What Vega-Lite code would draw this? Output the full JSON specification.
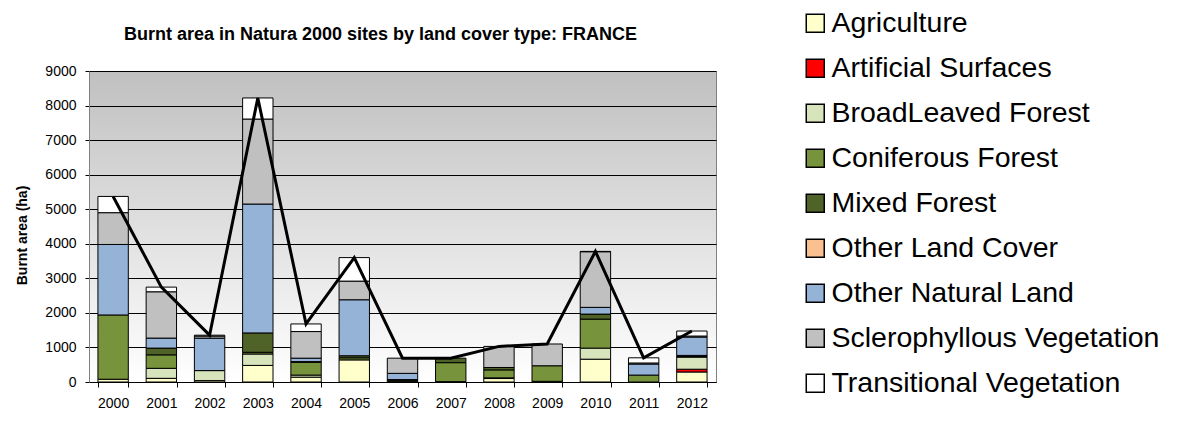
{
  "$schema": "https://vega.github.io/schema/vega-lite/v6.json",
  "autosize": "none",
  "width": 627,
  "height": 311,
  "padding": {"left": 89, "top": 71, "right": 462, "bottom": 42},
  "background": "white",
  "config": {
    "font": "Liberation Sans",
    "view": {
      "stroke": "#808080",
      "strokeWidth": 1,
      "fill": {"gradient": "linear", "x1": 0, "y1": 0, "x2": 0, "y2": 1, "stops": [{"offset": 0, "color": "#c0c0c0"}, {"offset": 1, "color": "#ffffff"}]}
    }
  },
  "title": {
    "text": "Burnt area in Natura 2000 sites by land cover type: FRANCE",
    "font": "Liberation Sans",
    "fontSize": 18,
    "fontWeight": "bold",
    "color": "#000000",
    "anchor": "middle",
    "frame": "group",
    "offset": -35,
    "dx": -22
  },
  "data": {
    "values": [
      {"year": "2000", "cover": "Agriculture", "area": 80},
      {"year": "2000", "cover": "Coniferous Forest", "area": 1860},
      {"year": "2000", "cover": "Other Natural Land", "area": 2040},
      {"year": "2000", "cover": "Sclerophyllous Vegetation", "area": 920},
      {"year": "2000", "cover": "Transitional Vegetation", "area": 470},
      {"year": "2001", "cover": "Agriculture", "area": 106},
      {"year": "2001", "cover": "BroadLeaved Forest", "area": 290},
      {"year": "2001", "cover": "Coniferous Forest", "area": 390},
      {"year": "2001", "cover": "Mixed Forest", "area": 195},
      {"year": "2001", "cover": "Other Natural Land", "area": 290},
      {"year": "2001", "cover": "Sclerophyllous Vegetation", "area": 1340},
      {"year": "2001", "cover": "Transitional Vegetation", "area": 135},
      {"year": "2002", "cover": "Agriculture", "area": 40},
      {"year": "2002", "cover": "BroadLeaved Forest", "area": 290},
      {"year": "2002", "cover": "Other Natural Land", "area": 940},
      {"year": "2002", "cover": "Sclerophyllous Vegetation", "area": 60},
      {"year": "2002", "cover": "Transitional Vegetation", "area": 25},
      {"year": "2003", "cover": "Agriculture", "area": 480},
      {"year": "2003", "cover": "BroadLeaved Forest", "area": 330},
      {"year": "2003", "cover": "Coniferous Forest", "area": 50},
      {"year": "2003", "cover": "Mixed Forest", "area": 560},
      {"year": "2003", "cover": "Other Natural Land", "area": 3730},
      {"year": "2003", "cover": "Sclerophyllous Vegetation", "area": 2460},
      {"year": "2003", "cover": "Transitional Vegetation", "area": 610},
      {"year": "2004", "cover": "Agriculture", "area": 140},
      {"year": "2004", "cover": "BroadLeaved Forest", "area": 60},
      {"year": "2004", "cover": "Coniferous Forest", "area": 370},
      {"year": "2004", "cover": "Mixed Forest", "area": 20},
      {"year": "2004", "cover": "Other Natural Land", "area": 100},
      {"year": "2004", "cover": "Sclerophyllous Vegetation", "area": 770},
      {"year": "2004", "cover": "Transitional Vegetation", "area": 220},
      {"year": "2005", "cover": "Agriculture", "area": 640},
      {"year": "2005", "cover": "Coniferous Forest", "area": 60},
      {"year": "2005", "cover": "Mixed Forest", "area": 60},
      {"year": "2005", "cover": "Other Natural Land", "area": 1620},
      {"year": "2005", "cover": "Sclerophyllous Vegetation", "area": 540},
      {"year": "2005", "cover": "Transitional Vegetation", "area": 680},
      {"year": "2006", "cover": "Agriculture", "area": 10},
      {"year": "2006", "cover": "Coniferous Forest", "area": 40},
      {"year": "2006", "cover": "Mixed Forest", "area": 20},
      {"year": "2006", "cover": "Other Natural Land", "area": 180},
      {"year": "2006", "cover": "Sclerophyllous Vegetation", "area": 440},
      {"year": "2007", "cover": "Agriculture", "area": 10},
      {"year": "2007", "cover": "Coniferous Forest", "area": 550},
      {"year": "2007", "cover": "Mixed Forest", "area": 130},
      {"year": "2008", "cover": "Agriculture", "area": 100},
      {"year": "2008", "cover": "BroadLeaved Forest", "area": 20},
      {"year": "2008", "cover": "Coniferous Forest", "area": 230},
      {"year": "2008", "cover": "Mixed Forest", "area": 70},
      {"year": "2008", "cover": "Sclerophyllous Vegetation", "area": 610},
      {"year": "2009", "cover": "Agriculture", "area": 20},
      {"year": "2009", "cover": "Coniferous Forest", "area": 450},
      {"year": "2009", "cover": "Sclerophyllous Vegetation", "area": 630},
      {"year": "2010", "cover": "Agriculture", "area": 660},
      {"year": "2010", "cover": "BroadLeaved Forest", "area": 320},
      {"year": "2010", "cover": "Coniferous Forest", "area": 840},
      {"year": "2010", "cover": "Mixed Forest", "area": 145},
      {"year": "2010", "cover": "Other Natural Land", "area": 195},
      {"year": "2010", "cover": "Sclerophyllous Vegetation", "area": 1610},
      {"year": "2010", "cover": "Transitional Vegetation", "area": 10},
      {"year": "2011", "cover": "Coniferous Forest", "area": 200},
      {"year": "2011", "cover": "Other Natural Land", "area": 320},
      {"year": "2011", "cover": "Sclerophyllous Vegetation", "area": 30},
      {"year": "2011", "cover": "Transitional Vegetation", "area": 150},
      {"year": "2012", "cover": "Agriculture", "area": 290},
      {"year": "2012", "cover": "Artificial Surfaces", "area": 80},
      {"year": "2012", "cover": "BroadLeaved Forest", "area": 350},
      {"year": "2012", "cover": "Coniferous Forest", "area": 20},
      {"year": "2012", "cover": "Mixed Forest", "area": 30},
      {"year": "2012", "cover": "Other Natural Land", "area": 530},
      {"year": "2012", "cover": "Sclerophyllous Vegetation", "area": 30},
      {"year": "2012", "cover": "Transitional Vegetation", "area": 145}
    ]
  },
  "encoding": {
    "x": {
      "field": "year",
      "type": "ordinal",
      "scale": {"paddingInner": 0.37, "paddingOuter": 0.185},
      "axis": {
        "title": null,
        "labelAngle": 0,
        "labelFont": "Liberation Sans",
        "labelFontSize": 14,
        "labelColor": "#000000",
        "labelPadding": 9,
        "tickBand": "extent",
        "tickSize": 5,
        "tickColor": "#000000",
        "domainColor": "#000000",
        "grid": false
      }
    },
    "y": {
      "field": "area",
      "type": "quantitative",
      "aggregate": "sum",
      "scale": {"domain": [0, 9000], "nice": false},
      "axis": {
        "title": "Burnt area (ha)",
        "titleFont": "Liberation Sans",
        "titleFontSize": 14,
        "titleFontWeight": "bold",
        "titleColor": "#000000",
        "titleX": -67,
        "titleY": 164,
        "titleAngle": -90,
        "titleAlign": "center",
        "titleBaseline": "middle",
        "values": [0, 1000, 2000, 3000, 4000, 5000, 6000, 7000, 8000, 9000],
        "format": "d",
        "labelOverlap": false,
        "labelFont": "Liberation Sans",
        "labelFontSize": 14,
        "labelColor": "#000000",
        "labelPadding": 9,
        "tickSize": 4,
        "tickColor": "#000000",
        "domainColor": "#808080",
        "grid": true,
        "gridColor": "#000000",
        "gridWidth": 1,
        "gridOpacity": 1
      }
    }
  },
  "layer": [
    {
      "mark": {"type": "bar", "stroke": "#000000", "strokeWidth": 1},
      "encoding": {
        "order": {"field": "cover", "type": "nominal", "sort": "ascending"},
        "color": {
          "field": "cover",
          "type": "nominal",
          "scale": {
            "domain": ["Agriculture", "Artificial Surfaces", "BroadLeaved Forest", "Coniferous Forest", "Mixed Forest", "Other Land Cover", "Other Natural Land", "Sclerophyllous Vegetation", "Transitional Vegetation"],
            "range": ["#ffffcc", "#ff0000", "#d8e4bc", "#77933c", "#4f6228", "#fac090", "#95b3d7", "#c0c0c0", "#ffffff"]
          },
          "legend": {
            "title": null,
            "orient": "none",
            "legendX": 712,
            "legendY": -62,
            "padding": 0,
            "symbolType": "square",
            "symbolSize": 324,
            "symbolStrokeColor": "#000000",
            "symbolStrokeWidth": 1.5,
            "symbolOpacity": 1,
            "labelFont": "Liberation Sans",
            "labelFontSize": 28.5,
            "labelColor": "#000000",
            "labelOffset": 2,
            "labelLimit": 500,
            "rowPadding": 16
          }
        }
      }
    },
    {
      "mark": {"type": "line", "color": "#000000", "strokeWidth": 3},
      "encoding": {}
    }
  ]
}
